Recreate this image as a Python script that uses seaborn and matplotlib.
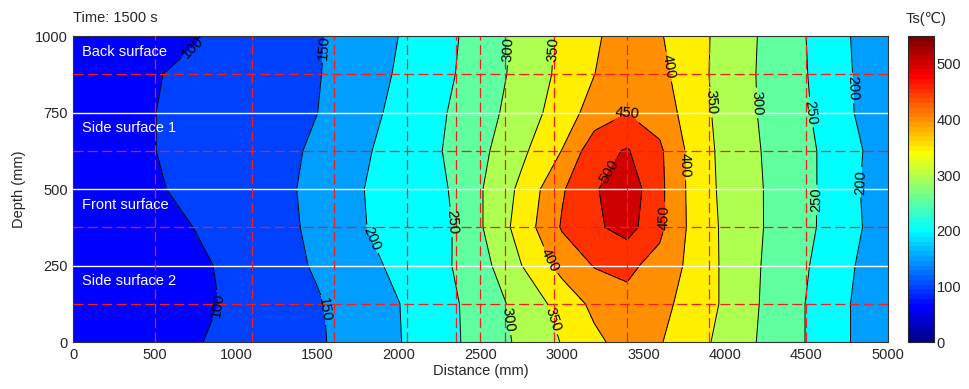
import numpy as np
import matplotlib
matplotlib.use("Agg")
import matplotlib.pyplot as plt
from matplotlib.colors import ListedColormap, Normalize
import matplotlib.cm as cm
import seaborn as sns

# Surface temperature Ts (degC) at t = 1500 s, sampled along the distance axis
distance_mm = [0, 250, 500, 750, 1000, 1250, 1500, 1750, 2000, 2250, 2500,
               2750, 3000, 3200, 3400, 3600, 3800, 4000, 4250, 4500, 4750, 5000]
depth_mm = [0, 125, 250, 375, 500, 625, 750, 875, 1000]

ts_depth_0 = [60, 68, 80, 97, 112.8, 128.6, 144.5, 168.9, 197.9, 230.9, 267.8,
              309.7, 352.2, 388.4, 420.9, 403.4, 369.9, 335.4, 289.6, 248.7, 203.3, 165]
ts_depth_125 = [58, 63, 72, 88, 108.9, 127.4, 145.9, 171.6, 199.3, 231.5, 269.8,
                317.3, 368.0, 412.7, 437.7, 416.5, 377.8, 343.8, 292.0, 248.7, 203.3, 165]
ts_depth_250 = [60, 66, 76, 91, 111.8, 132.9, 155.2, 183.1, 210.4, 236.9, 281.0,
                348.9, 416.7, 452.8, 459.4, 434.9, 385.7, 342.1, 294.6, 253.8, 207.0, 172]
ts_depth_375 = [62, 70, 82, 101.1, 120.1, 139.2, 158.0, 194.9, 218.9, 230.0, 295.4,
                370.1, 454.4, 490.7, 520.0, 460.7, 386.6, 341.2, 297.9, 262.1, 213.5, 178]
ts_depth_500 = [68, 80, 95.5, 111.1, 126.8, 142.4, 158.0, 196.3, 221.4, 238.0, 296.0,
                360.3, 444.6, 495.0, 532.0, 462.2, 384.6, 337.7, 297.9, 263.4, 212.1, 175]
ts_depth_625 = [74, 87, 99.5, 113.6, 127.4, 141.1, 155.0, 190.2, 219.1, 247.5, 288.3,
                339.1, 401.0, 481.7, 504.0, 458.7, 383.2, 335.2, 295.6, 262.6, 214.1, 178]
ts_depth_750 = [75, 88, 99.5, 112.5, 124.9, 137.4, 149.9, 181.0, 212.3, 243.5, 279.5,
                322.9, 373.8, 421.2, 448.8, 429.2, 375.4, 332.5, 291.6, 255.2, 207.4, 165]
ts_depth_875 = [72, 86, 97.5, 109.9, 122.4, 134.9, 147.4, 174.6, 205.4, 236.1, 272.4,
                315.1, 361.7, 399.6, 429.4, 414.0, 369.8, 331.4, 290.2, 251.7, 205.6, 165]
ts_depth_1000 = [65, 72, 82, 97, 113.5, 129.6, 145.7, 171.2, 200.5, 232.6, 269.5,
                 312.8, 358.8, 394.2, 419.6, 404.1, 368.9, 334.3, 291.4, 249.8, 203.3, 165]

levels = [0, 50, 100, 150, 200, 250, 300, 350, 400, 450, 500, 550]
colorbar_ticks = [0, 100, 200, 300, 400, 500]

# Thermocouple grid and face boundaries
sensor_distance = [500, 1100, 1600, 2050, 2350, 2500, 2650, 2950, 3400, 3900, 4500, 5000]
sensor_depth = [125, 375, 625, 875]
face_boundaries = [250, 500, 750]
face_names = ["Back surface", "Side surface 1", "Front surface", "Side surface 2"]
face_name_depth = [948, 699, 448, 199]

# Where the isotherm values are written
label_spots = [(716, 971), (888, 121), (1563, 961), (1526, 105), (1803, 330),
               (2313, 392), (2693, 954), (2669, 72), (2958, 954), (2939, 72),
               (2896, 261), (3602, 895), (3743, 578), (3399, 748), (3651, 408),
               (3277, 562), (3847, 781), (4167, 781), (4553, 752), (4596, 464),
               (4768, 830), (4811, 523)]


def jet_table(m=64):
    """Classic 64-entry jet colour table."""
    n = int(np.ceil(m / 4))
    u = np.concatenate([np.arange(1, n + 1) / n, np.ones(n - 1), np.arange(n, 0, -1) / n])
    g = int(np.ceil(n / 2)) - (1 if m % 4 == 1 else 0) + np.arange(1, len(u) + 1)
    table = np.zeros((m, 3))
    for col, idx in ((0, g + n), (1, g), (2, g - n)):
        ok = (idx >= 1) & (idx <= m)
        table[idx[ok] - 1, col] = u[ok]
    return table


sns.set_style("white")
plt.rcParams["font.family"] = ["Liberation Sans", "DejaVu Sans"]
plt.rcParams["font.size"] = 10.5

jet = jet_table(64)
vmin, vmax = levels[0], levels[-1]
# each band takes the colour of its lower isotherm; the coolest bands use full blue
band_colors = [jet[max(min(int((lv - vmin) / (vmax - vmin) * 64), 63), 7 if lv > vmin else 0)]
               for lv in levels[:-1]]

Z = np.array([ts_depth_0, ts_depth_125, ts_depth_250, ts_depth_375, ts_depth_500,
              ts_depth_625, ts_depth_750, ts_depth_875, ts_depth_1000])
X, Y = np.meshgrid(distance_mm, depth_mm)

fig = plt.figure(figsize=(9.69, 3.89), dpi=100)
ax = fig.add_axes([0.0756, 0.1208, 0.8405, 0.7866])

ax.contourf(X, Y, Z, levels=levels, colors=band_colors)
lines = ax.contour(X, Y, Z, levels=levels[1:-1], colors="black", linewidths=0.7)

for d in face_boundaries:
    ax.axhline(d, color="white", lw=1.0, zorder=3)
for d in sensor_depth:
    ax.axhline(d, color="#ff1a1a", lw=0.9, ls=(0, (8, 3.5)), zorder=3)
for x in sensor_distance:
    ax.axvline(x, color="#ff1a1a", lw=0.9, ls=(0, (8, 3.5)), zorder=3)

ax.clabel(lines, levels=levels[1:-1], manual=label_spots, fmt="%d",
          fontsize=10.5, inline=True, inline_spacing=3)

for name, d in zip(face_names, face_name_depth):
    ax.text(53, d, name, color="white", fontsize=10.5, va="center", ha="left", zorder=5)

ax.set_xlim(0, 5000)
ax.set_ylim(0, 1000)
ax.set_xticks(range(0, 5001, 500))
ax.set_yticks([0, 250, 500, 750, 1000])
ax.tick_params(length=0, labelsize=10.5, pad=4)
ax.set_xlabel("Distance (mm)", fontsize=10.5, labelpad=2)
ax.set_ylabel("Depth (mm)", fontsize=10.5, labelpad=6)
for sp in ax.spines.values():
    sp.set_color("#333333")
    sp.set_linewidth(0.8)

cax = fig.add_axes([0.937, 0.1208, 0.0268, 0.7866])
sm = cm.ScalarMappable(norm=Normalize(vmin, vmax), cmap=ListedColormap(jet))
cbar = fig.colorbar(sm, cax=cax, ticks=colorbar_ticks)
cbar.ax.tick_params(direction="in", length=3, left=True, right=True, labelsize=10.5, pad=2)
cbar.outline.set_linewidth(0.8)

fig.text(0.0756, 0.955, "Time: 1500 s", fontsize=10.5, ha="left", va="center")
fig.text(0.956, 0.951, "Ts(\u2103)", fontsize=10.5, ha="center", va="center")

fig.savefig("out.png", dpi=100)
